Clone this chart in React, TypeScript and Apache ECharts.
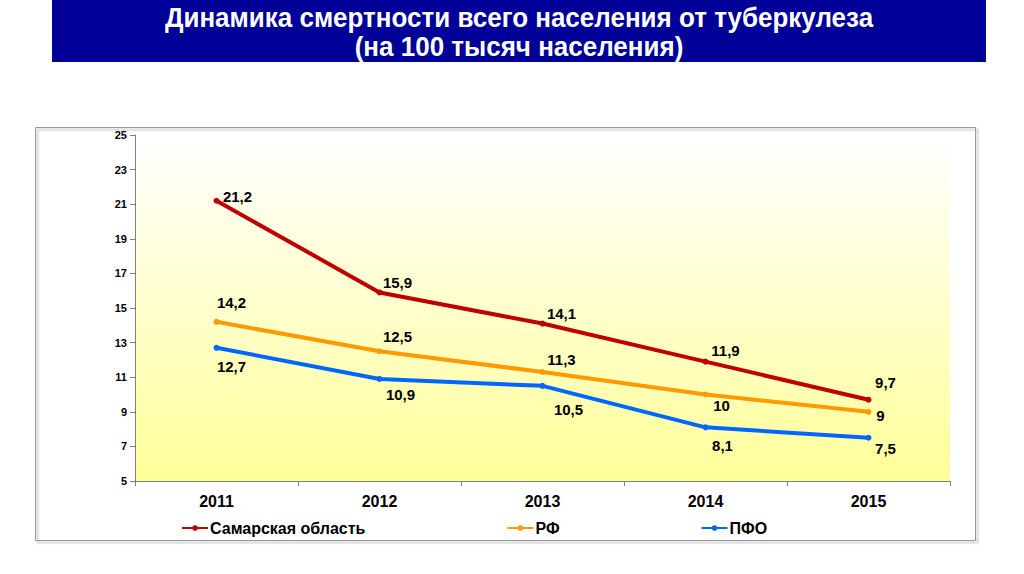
import React, { useEffect, useRef } from "react";
import * as echarts from "echarts";

const years = ["2011", "2012", "2013", "2014", "2015"];
const samara = [21.2, 15.9, 14.1, 11.9, 9.7];
const rf = [14.2, 12.5, 11.3, 10, 9];
const pfo = [12.7, 10.9, 10.5, 8.1, 7.5];
const seriesNames = ["Самарская область", "РФ", "ПФО"];
const titleLines = ["Динамика смертности всего населения от туберкулеза", "(на 100 тысяч населения)"];

const samaraOffsets = [[21, -4], [18, -10], [19, -10], [20, -11], [17, -17]];
const rfOffsets = [[15, -19], [18, -15], [19, -13], [16, 11], [12, 4]];
const pfoOffsets = [[15, 19], [21, 16], [26, 24], [17, 18], [17, 11]];

const fmt = (v: number) => String(v).replace(".", ",");

function build(values: number[], offsets: number[][]) {
  return values.map((v, i) => ({
    value: v,
    label: {
      show: true,
      position: "inside",
      offset: offsets[i],
      formatter: () => fmt(v),
    },
  }));
}

export default function App() {
  const ref = useRef<HTMLDivElement>(null);
  useEffect(() => {
    if (!ref.current) return;
    const chart = echarts.init(ref.current, null, { renderer: "svg" });
    const font = "Liberation Sans, Arial, sans-serif";
    const labelStyle = {
      fontFamily: font,
      fontWeight: "bold",
      fontSize: 15,
      color: "#000",
    };
    const mk = (name: string, data: any[], color: string) => ({
      name,
      type: "line",
      data,
      symbol: "circle",
      symbolSize: 6,
      lineStyle: { color, width: 4 },
      itemStyle: { color },
      label: { ...labelStyle },
      emphasis: { disabled: true },
    });
    chart.setOption({
      animation: false,
      backgroundColor: "#fff",
      graphic: [
        {
          type: "rect",
          shape: { x: 52, y: 0, width: 934, height: 62 },
          style: { fill: "#000099" },
          z: 0,
        },
        {
          type: "text",
          x: 519,
          y: 18,
          scaleY: 1.08,
          style: {
            text: titleLines[0],
            fill: "#fff",
            font: "bold 26px 'Liberation Sans', Arial, sans-serif",
            textAlign: "center",
            textVerticalAlign: "middle",
          },
        },
        {
          type: "text",
          x: 519,
          y: 47,
          scaleY: 1.08,
          style: {
            text: titleLines[1],
            fill: "#fff",
            font: "bold 26px 'Liberation Sans', Arial, sans-serif",
            textAlign: "center",
            textVerticalAlign: "middle",
          },
        },
        {
          type: "rect",
          shape: { x: 35.5, y: 127.5, width: 940, height: 413 },
          style: { fill: "none", stroke: "#9a9a9a", lineWidth: 1, shadowColor: "rgba(0,0,0,0.35)", shadowOffsetX: 2, shadowOffsetY: 2, shadowBlur: 2 },
          z: -1,
        },
      ],
      grid: {
        left: 135,
        right: 74,
        top: 135,
        bottom: 93,
        show: true,
        borderWidth: 0,
        backgroundColor: {
          type: "linear",
          x: 0, y: 0, x2: 0, y2: 1,
          colorStops: [
            { offset: 0, color: "#ffffff" },
            { offset: 1, color: "#ffff99" },
          ],
        },
      },
      legend: {
        left: 176,
        top: 515,
        itemGap: 141,
        itemWidth: 26,
        itemHeight: 7,
        textStyle: { ...labelStyle, fontSize: 16, padding: [0, 0, 0, -3] },
        data: seriesNames,
      },
      xAxis: {
        type: "category",
        data: years,
        boundaryGap: true,
        axisLine: { lineStyle: { color: "#808080" } },
        axisTick: { show: true, length: 5, lineStyle: { color: "#808080" } },
        axisLabel: { ...labelStyle, fontSize: 16, margin: 12 },
        splitLine: { show: false },
      },
      yAxis: {
        type: "value",
        min: 5,
        max: 25,
        interval: 2,
        axisLine: { show: true, lineStyle: { color: "#808080" } },
        axisTick: { show: true, length: 5, lineStyle: { color: "#808080" } },
        axisLabel: { ...labelStyle, fontSize: 11, margin: 8 },
        splitLine: { show: false },
      },
      series: [
        mk(seriesNames[0], build(samara, samaraOffsets), "#C00000"),
        mk(seriesNames[1], build(rf, rfOffsets), "#FF9900"),
        mk(seriesNames[2], build(pfo, pfoOffsets), "#0066FF"),
      ],
    });
    return () => chart.dispose();
  }, []);
  return <div ref={ref} style={{ width: 1024, height: 574, position: "absolute", left: 0, top: 0 }} />;
}
